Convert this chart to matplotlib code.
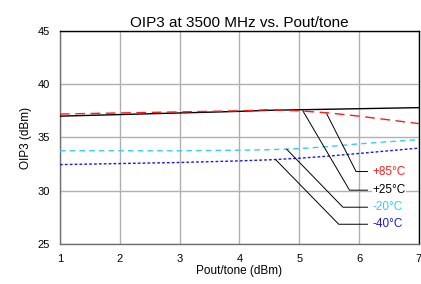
import matplotlib
matplotlib.use("Agg")
import matplotlib.pyplot as plt

plt.rcParams['font.family'] = ['Liberation Sans', 'DejaVu Sans']

# Pout/tone (dBm)
pout = [1, 2, 3, 4, 4.5, 5, 5.5, 6, 7]

# OIP3 (dBm) per temperature
oip3_p85 = [37.2, 37.3, 37.4, 37.5, 37.6, 37.5, 37.3, 37.0, 36.3]
oip3_p25 = [37.0, 37.15, 37.3, 37.45, 37.55, 37.6, 37.65, 37.7, 37.8]
oip3_m20 = [33.75, 33.75, 33.75, 33.8, 33.85, 33.95, 34.15, 34.4, 34.8]
oip3_m40 = [32.45, 32.55, 32.65, 32.8, 32.9, 33.05, 33.25, 33.5, 34.0]

labels = ['+85°C', '+25°C', '-20°C', '-40°C']
colors = ['#ff1a1a', 'black', '#33ccff', '#1a1ae6']

# leader lines: point on curve, elbow, label y
leader_start = [(5.46, 37.21), (5.06, 37.5), (4.79, 33.89), (4.61, 32.89)]
leader_elbow = [(5.95, 31.8), (5.84, 30.05), (5.73, 28.45), (5.66, 26.85)]
label_x = 6.14

fig = plt.figure(figsize=(4.21, 2.84), dpi=100)
ax = fig.add_axes([0.1425, 0.141, 0.8525, 0.75])

ax.plot(pout, oip3_p25, color=colors[1], lw=1.0, zorder=3)
ax.plot(pout, oip3_p85, color=colors[0], lw=1.0, dashes=(7, 4), zorder=4)
ax.plot(pout, oip3_m20, color=colors[2], lw=1.0, dashes=(4, 3), zorder=3)
ax.plot(pout, oip3_m40, color=colors[3], lw=1.0, dashes=(2, 1.5), zorder=3)

for lab, col, s, e in zip(labels, colors, leader_start, leader_elbow):
    ax.plot([s[0], e[0], label_x], [s[1], e[1], e[1]], color='black', lw=0.7, zorder=5)
    ax.text(label_x + 0.08, e[1], lab, color=col, fontsize=8.5, va='center', ha='left',
            zorder=6, bbox=dict(facecolor='white', edgecolor='none', pad=0.5))

ax.set_xlim(1, 7)
ax.set_ylim(25, 45)
ax.set_xticks([1, 2, 3, 4, 5, 6, 7])
ax.set_yticks([25, 30, 35, 40, 45])
ax.grid(True, color='#b0b0b0', lw=1.0)
ax.tick_params(length=0, labelsize=8, pad=7)
for sp in ['left', 'bottom']:
    ax.spines[sp].set_color('#707070')
for sp in ['left', 'right', 'bottom', 'top']:
    ax.spines[sp].set_linewidth(1.0)

ax.set_title('OIP3 at 3500 MHz vs. Pout/tone', fontsize=11, pad=3)
ax.set_xlabel('Pout/tone (dBm)', fontsize=8.5, labelpad=1)
ax.set_ylabel('OIP3 (dBm)', fontsize=8.5, labelpad=4)

fig.savefig('out.png', dpi=100)
